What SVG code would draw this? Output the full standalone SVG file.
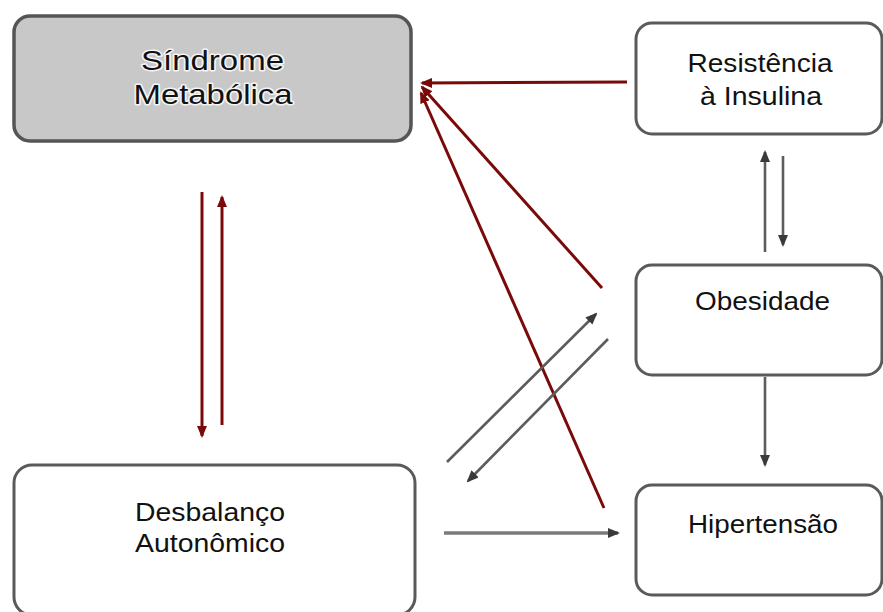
<svg xmlns="http://www.w3.org/2000/svg" width="883" height="612" viewBox="0 0 883 612">
<style>
.box{fill:#ffffff;stroke:#5a5a5a;stroke-width:3}
.main{fill:#c8c8c8;stroke:#555555;stroke-width:3.5}
.t{font-family:"Liberation Sans",Arial,sans-serif;font-size:25px;fill:#111111;text-anchor:middle}
.tm{font-family:"Liberation Sans",Arial,sans-serif;font-size:28px;fill:#111111;text-anchor:middle;stroke:#f4f4f4;stroke-width:3;paint-order:stroke;stroke-linejoin:round}
.red{stroke:#7a0a0a;stroke-width:3;fill:none;marker-end:url(#ar)}
.gray{stroke:#5c5c5c;stroke-width:2.6;fill:none;marker-end:url(#ag)}
</style>
<defs>
<marker id="ar" viewBox="0 0 12 10" refX="10" refY="5" markerWidth="12" markerHeight="10" markerUnits="userSpaceOnUse" orient="auto"><path d="M0,0 L12,5 L0,10 z" fill="#7a0a0a"/></marker>
<marker id="ag" viewBox="0 0 12 10" refX="10" refY="5" markerWidth="12" markerHeight="10" markerUnits="userSpaceOnUse" orient="auto"><path d="M0,0 L12,5 L0,10 z" fill="#3a3a3a"/></marker>
</defs>
<rect width="883" height="612" fill="#ffffff"/>
<g id="sindrome">
<rect class="main" x="14" y="16" width="397" height="125" rx="16"/>
<text class="tm" x="212.5" y="70" textLength="143" lengthAdjust="spacingAndGlyphs">Síndrome</text>
<text class="tm" x="213" y="104" textLength="159" lengthAdjust="spacingAndGlyphs">Metabólica</text>
</g>
<g id="resistencia">
<rect class="box" x="636" y="23" width="246" height="111" rx="16"/>
<text class="t" x="760" y="72" textLength="145" lengthAdjust="spacingAndGlyphs">Resistência</text>
<text class="t" x="761" y="105" textLength="122" lengthAdjust="spacingAndGlyphs">à Insulina</text>
</g>
<g id="obesidade">
<rect class="box" x="636" y="265" width="246" height="110" rx="16"/>
<text class="t" x="762.5" y="310" textLength="135" lengthAdjust="spacingAndGlyphs">Obesidade</text>
</g>
<g id="hipertensao">
<rect class="box" x="636" y="485" width="246" height="110" rx="16"/>
<text class="t" x="763" y="533" textLength="150" lengthAdjust="spacingAndGlyphs">Hipertensão</text>
</g>
<g id="desbalanco">
<rect class="box" x="14" y="465" width="401" height="150" rx="18"/>
<text class="t" x="210" y="521" textLength="150" lengthAdjust="spacingAndGlyphs">Desbalanço</text>
<text class="t" x="210" y="552" textLength="150" lengthAdjust="spacingAndGlyphs">Autonômico</text>
</g>
<g id="connectors">
<line class="red" x1="627" y1="82" x2="422" y2="83"/>
<line class="red" x1="602" y1="288" x2="422" y2="87"/>
<line class="red" x1="604" y1="508" x2="421" y2="93"/>
<line class="red" x1="202" y1="192" x2="202" y2="436"/>
<line class="red" x1="222" y1="425" x2="222" y2="197"/>
<line class="gray" x1="765" y1="252" x2="765" y2="152"/>
<line class="gray" x1="783" y1="156" x2="783" y2="245"/>
<line class="gray" x1="765" y1="377" x2="765" y2="465"/>
<line class="gray" x1="444" y1="533" x2="618" y2="533" style="stroke:#7a7a7a;stroke-width:3.5"/>
<line class="gray" x1="447" y1="462" x2="596" y2="314"/>
<line class="gray" x1="608" y1="339" x2="468" y2="481"/>
</g>
</svg>
